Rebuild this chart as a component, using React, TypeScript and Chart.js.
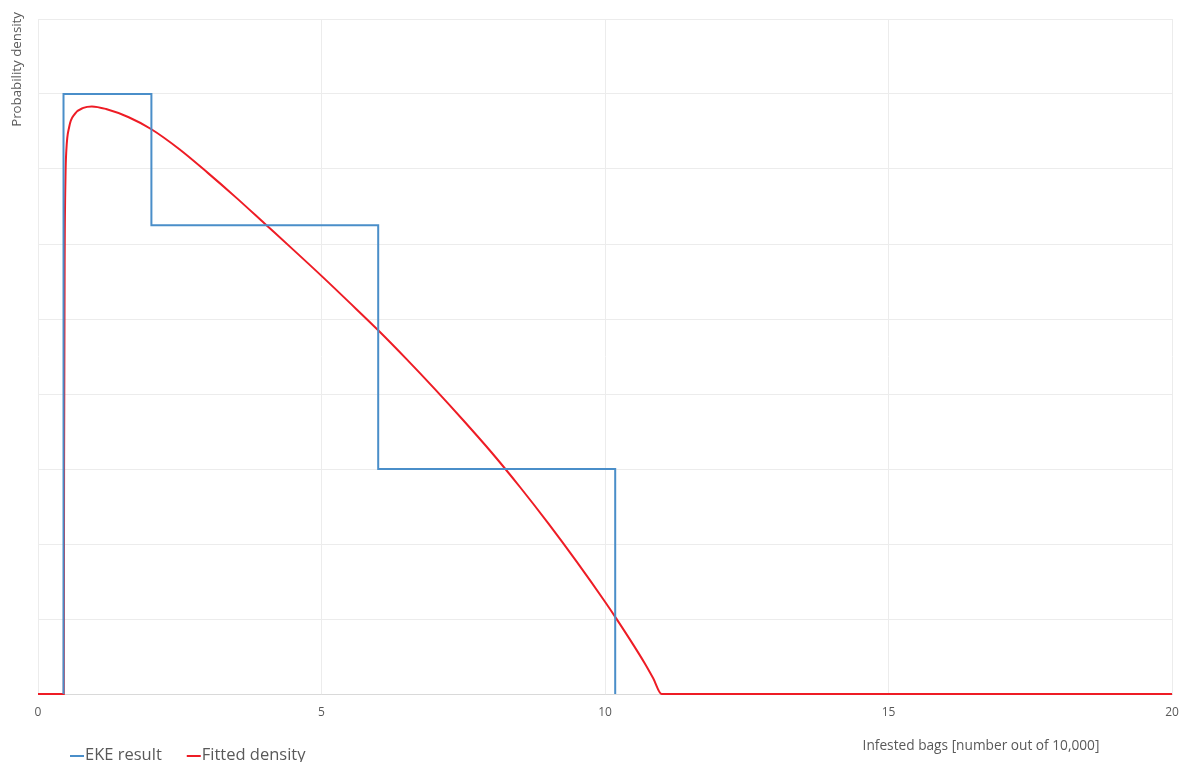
import React, { useEffect, useRef } from "react";
import { Chart, registerables } from "chart.js";

Chart.register(...registerables);

// EKE result (step histogram outline)
const ekeX = [0.45, 0.45, 2.0, 2.0, 6.0, 6.0, 10.18, 10.18];
const ekeY = [0, 0.16, 0.16, 0.125, 0.125, 0.06, 0.06, 0];

// Fitted density
const fitX = [0, 0.44, 0.455, 0.46, 0.47, 0.485, 0.5, 0.55, 0.65, 0.8, 0.95, 1.2, 1.6, 2.0, 2.5, 3.0, 3.5, 4.0, 4.5, 5.0, 5.5, 6.0, 6.5, 7.0, 7.5, 8.0, 8.5, 9.0, 9.5, 10.0, 10.2, 10.5, 10.7, 10.85, 11.0, 20];
const fitY = [0, 0, 0, 0.06, 0.115, 0.138, 0.145, 0.1512, 0.1547, 0.1563, 0.1567, 0.156, 0.1538, 0.1506, 0.1452, 0.1389, 0.1323, 0.1254, 0.1185, 0.1115, 0.1043, 0.097, 0.0893, 0.0813, 0.073, 0.0644, 0.0552, 0.0455, 0.0353, 0.0246, 0.0201, 0.0131, 0.0082, 0.0042, 0, 0];

const xTicks = [0, 5, 10, 15, 20];
const seriesNames = ["EKE result", "Fitted density"];
const seriesColors = ["#4a8ec9", "#ee1c25"];
const yTitle = "Probability density";
const xTitle = "Infested bags [number out of 10,000]";

const FONT = "'Open Sans', 'Noto Sans', sans-serif";

const textPlugin = {
  id: "texts",
  afterDraw(chart: any) {
    const ctx = chart.ctx;
    const a = chart.chartArea;
    ctx.save();
    ctx.fillStyle = "#595959";
    // y title
    ctx.font = `13.3px ${FONT}`;
    ctx.translate(a.left - 21, a.top - 7);
    ctx.rotate(-Math.PI / 2);
    ctx.textAlign = "right";
    ctx.textBaseline = "middle";
    ctx.fillText(yTitle, 0, 0);
    ctx.restore();

    ctx.save();
    ctx.fillStyle = "#595959";
    ctx.font = `13.7px ${FONT}`;
    ctx.textAlign = "center";
    ctx.textBaseline = "middle";
    ctx.fillText(xTitle, a.left + 943, a.bottom + 52);

    // legend
    ctx.font = `16.5px ${FONT}`;
    ctx.textAlign = "left";
    let x = a.left + 32;
    const y = a.bottom + 61;
    seriesNames.forEach((n, i) => {
      ctx.strokeStyle = seriesColors[i];
      ctx.lineWidth = 2;
      ctx.beginPath();
      ctx.moveTo(x, y + 1);
      ctx.lineTo(x + 14, y + 1);
      ctx.stroke();
      ctx.fillStyle = "#595959";
      ctx.fillText(n, x + 15, y);
      x += 15 + ctx.measureText(n).width + 25;
    });
    ctx.restore();
  },
};

export default function App() {
  const ref = useRef<HTMLCanvasElement | null>(null);
  useEffect(() => {
    if (!ref.current) return;
    const chart = new Chart(ref.current, {
      type: "line",
      data: {
        datasets: [
          {
            label: seriesNames[0],
            data: ekeX.map((x, i) => ({ x, y: ekeY[i] })),
            borderColor: seriesColors[0],
            borderWidth: 2,
            pointRadius: 0,
            tension: 0,
            fill: false,
            clip: false,
          },
          {
            label: seriesNames[1],
            data: fitX.map((x, i) => ({ x, y: fitY[i] })),
            borderColor: seriesColors[1],
            borderWidth: 2,
            pointRadius: 0,
            cubicInterpolationMode: "monotone",
            fill: false,
            clip: false,
          },
        ],
      },
      options: {
        animation: false,
        responsive: true,
        maintainAspectRatio: false,
        layout: { padding: { top: 11, right: 7, left: 0, bottom: 0 } },
        plugins: { legend: { display: false }, tooltip: { enabled: false } },
        scales: {
          x: {
            type: "linear",
            min: 0,
            max: 20,
            afterBuildTicks: (s: any) => {
              s.ticks = xTicks.map((v) => ({ value: v }));
            },
            afterFit: (s: any) => {
              s.height = 68;
              s.paddingLeft = 0;
              s.paddingRight = 0;
            },
            grid: { color: "#ececec", drawTicks: false, lineWidth: 1 },
            border: { display: true, color: "#d9d9d9" },
            ticks: { color: "#595959", font: { size: 12, family: FONT }, padding: 11, maxRotation: 0 },
          },
          y: {
            min: 0,
            max: 0.18,
            ticks: { display: false, stepSize: 0.02 },
            afterFit: (s: any) => {
              s.width = 30;
              s.paddingTop = 0;
              s.paddingBottom = 0;
            },
            grid: { color: "#ececec", drawTicks: false },
            border: { display: false },
          },
        },
      },
      plugins: [textPlugin],
    } as any);
    return () => chart.destroy();
  }, []);
  return (
    <div style={{ width: 1171, height: 754, position: "relative" }}>
      <canvas ref={ref} />
    </div>
  );
}
